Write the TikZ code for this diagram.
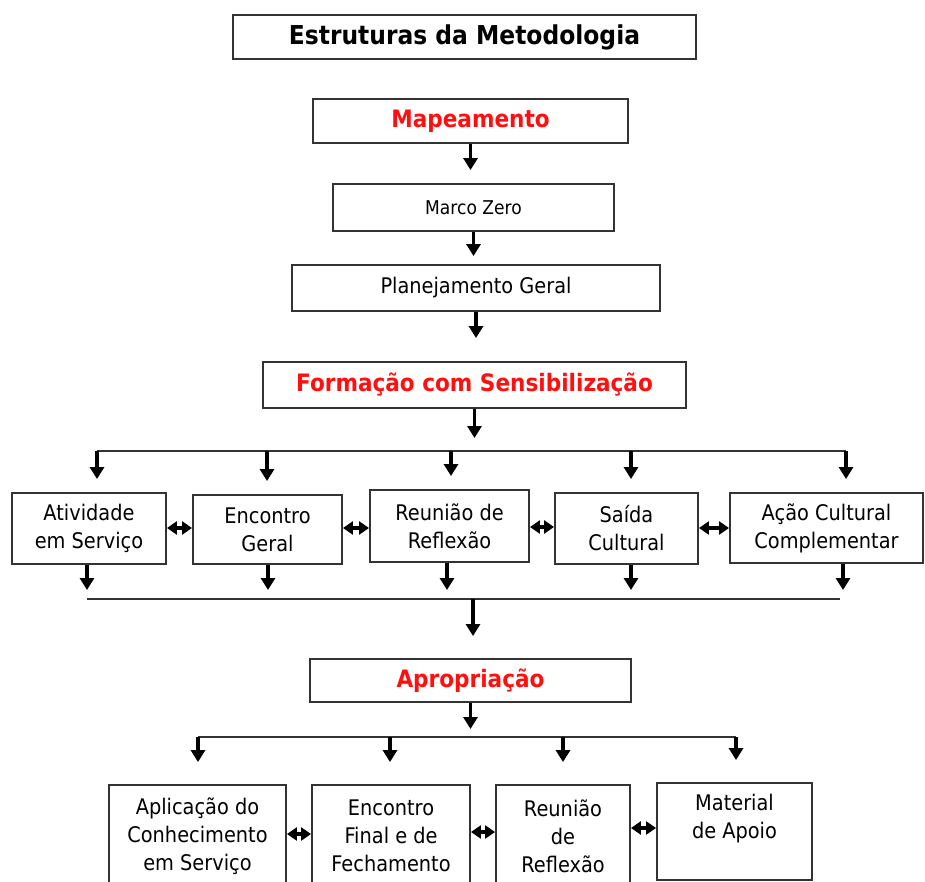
\documentclass[tikz,border=0pt]{standalone}
\usepackage{fontspec}
\setmainfont{DejaVu Sans}[FakeStretch=0.9]
\usetikzlibrary{arrows.meta}
\definecolor{frame}{HTML}{333333}
\definecolor{stagered}{HTML}{FF1010}
% box given by its left, top, right and bottom edges
\newcommand{\placebox}[7][]{%
  \node[box,#1,minimum width={#5-#3},minimum height={#6-#4}] (#2) at ({(#3+#5)/2},{(#4+#6)/2}) {#7};}
\begin{document}
\begin{tikzpicture}[x=1pt,y=-1pt,
  box/.style={draw=frame,line width=1.9pt,rectangle,inner sep=0pt,align=center,
    font=\fontsize{21.5}{28}\selectfont},
  stage/.style={font=\fontsize{24}{28}\selectfont\bfseries,text=stagered},
  title/.style={font=\fontsize{26}{30}\selectfont\bfseries},
  small/.style={font=\fontsize{19}{23}\selectfont},
  flow/.style={line width=3.2pt,-{Triangle[width=14pt,length=12pt]}},
  bus/.style={line width=1.9pt,draw=frame},
  link/.style={line width=3.2pt,{Triangle[width=13pt,length=10pt]}-{Triangle[width=13pt,length=10pt]}},
]
\useasboundingbox (0,0) rectangle (925,882);
\clip (0,0) rectangle (925,882);

% main column
\placebox[title]{ttl}{233}{15}{696}{59}{Estruturas da Metodologia}
\placebox[stage]{map}{313}{99}{628}{143}{Mapeamento}
\placebox[small]{mz}{333}{184}{614}{231}{Marco Zero}
\placebox{plan}{292}{265}{660}{311}{Planejamento Geral}
\placebox[stage]{form}{263}{362}{686}{408}{Formação com Sensibilização}

% first row of activities
\placebox{atv}{12}{493}{166}{564}{Atividade\\em Serviço}
\placebox{enc}{193}{495}{342}{564}{Encontro\\Geral}
\placebox{reu}{370}{490}{529}{562}{Reunião de\\Reflexão}
\placebox{sai}{555}{493}{698}{564}{Saída\\Cultural}
\placebox{acao}{730}{493}{923}{563}{Ação Cultural\\Complementar}

\placebox[stage]{apr}{310}{659}{631}{702}{Apropriação}

% second row of activities
\placebox{apl}{109}{785}{286}{887}{Aplicação do\\Conhecimento\\em Serviço}
\placebox{fin}{312}{785}{470}{887}{Encontro\\Final e de\\Fechamento}
\placebox{reutwo}{496}{785}{630}{887}{Reunião\\de\\Reflexão}
\placebox{mat}{657}{783}{812}{880}{}
\node[align=center,font=\fontsize{21.5}{28}\selectfont] (mattext) at (734.5,819) {Material\\de Apoio};

% main column arrows
\draw[flow,shorten >=13pt] (map.south) -- (map.south |- mz.north);
\draw[flow,shorten >=8pt] (mz.south) -- (mz.south |- plan.north);
\draw[flow,shorten >=23pt] (plan.south) -- (plan.south |- form.north);

% distribution to the first row
\coordinate (bonew) at (97,451);
\coordinate (bonee) at (846,451);
\draw[flow,shorten >=13pt] (form.south) -- (form.south |- bonew);
\draw[bus] (bonew) -- (bonee);
\foreach \x/\n in {97/atv,267/enc,451/reu,631/sai,846/acao}{
  \coordinate (d\n) at (\x,451);
  \draw[flow,shorten >=13pt] (d\n) -- (d\n |- \n.north);
}

% collection from the first row
\foreach \x/\n in {87/atv,268/enc,447/reu,631/sai,843/acao}{
  \coordinate (u\n) at (\x,599);
  \draw[flow,shorten >=9pt] (u\n |- \n.south) -- (u\n);
}
\draw[bus] (uatv) -- ([xshift=-3pt]uacao);
\coordinate (ctwo) at (473,599);
\draw[flow,shorten >=22pt] (ctwo) -- (ctwo |- apr.north);

% distribution to the second row
\coordinate (bthw) at (198,737);
\coordinate (bthe) at (736,737);
\draw[flow,shorten >=8pt] (apr.south) -- (apr.south |- bthw);
\draw[bus] (bthw) -- (bthe);
\foreach \x/\n in {198/apl,390/fin,563/reutwo,736/mat}{
  \coordinate (e\n) at (\x,737);
  \draw[flow,shorten >=22pt] (e\n) -- (e\n |- \n.north);
}

% links between neighbouring activities
\draw[link] (atv.east |- 0,528) -- (enc.west |- 0,528);
\draw[link] (enc.east |- 0,528) -- (reu.west |- 0,528);
\draw[link] (reu.east |- 0,527) -- (sai.west |- 0,527);
\draw[link] (sai.east |- 0,528) -- (acao.west |- 0,528);
\draw[link] (apl.east |- 0,834) -- (fin.west |- 0,834);
\draw[link] (fin.east |- 0,832) -- (reutwo.west |- 0,832);
\draw[link] (reutwo.east |- 0,828) -- (mat.west |- 0,828);
\end{tikzpicture}
\end{document}
